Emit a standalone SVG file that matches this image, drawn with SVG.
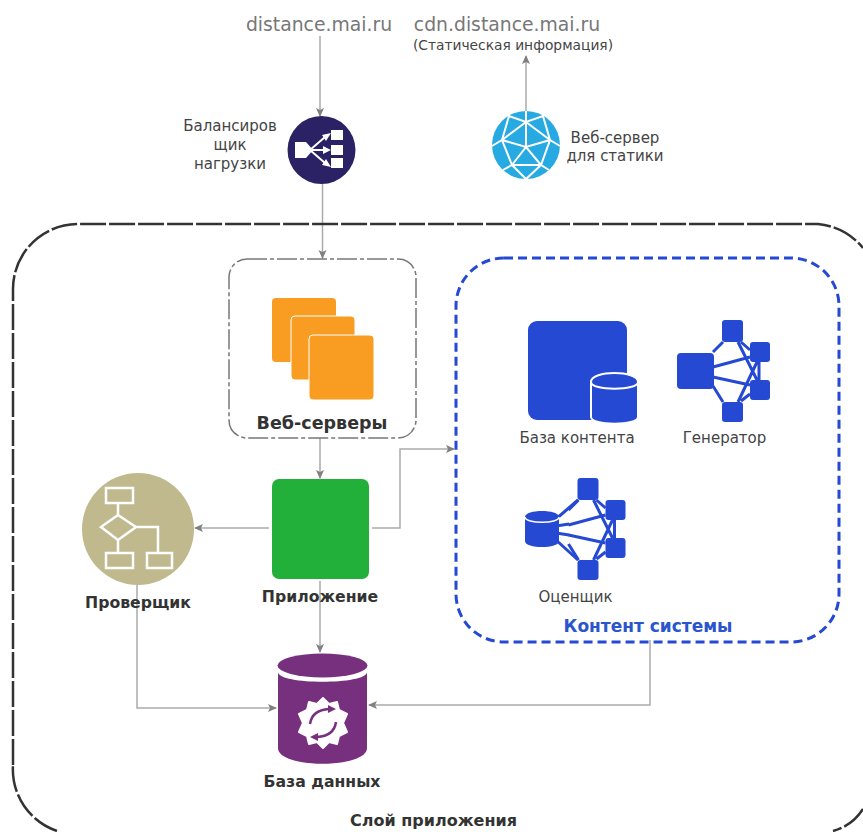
<svg xmlns="http://www.w3.org/2000/svg" width="863" height="832" viewBox="0 0 863 832">
<style>
text{font-family:"DejaVu Sans","Noto Sans CJK SC",sans-serif;text-anchor:middle}
.l{font-size:15px;fill:#444}
.b{font-size:15.700px;font-weight:bold;fill:#333}
.h{font-size:18.800px;fill:#777}
.c{fill:none;stroke:#aaa;stroke-width:1.500}
.bl{fill:#2549d2}
.ln{stroke:#2549d2;stroke-width:3;fill:none}
.wl{stroke:#fff;stroke-width:2.500;fill:none}
</style>
<defs>
<marker id="a" markerWidth="10" markerHeight="10" refX="8" refY="4" orient="auto" markerUnits="userSpaceOnUse"><path d="M0 0L9 4L0 8L2 4Z" fill="#808080"/></marker>
<g id="mesh">
<path class="ln" d="M-19 -18L-9 -28M9 -28L18 -20M6 -28L25 10M-19 -3L18 -13M-19 7L18 15M-19 16L-9 32M9 31L18 24M6 32L25 -8M27 -8V10"/>
<rect class="bl" x="-10" y="-50" width="21" height="22" rx="3"/>
<rect class="bl" x="-10" y="32" width="21" height="20" rx="3"/>
<rect class="bl" x="18" y="-28" width="20" height="20" rx="3"/>
<rect class="bl" x="18" y="10" width="20" height="20" rx="3"/>
</g>
</defs>
<g id="connectors">
<path class="c" d="M320 36V116" marker-end="url(#a)"/>
<path class="c" d="M322.500 184V258" marker-end="url(#a)"/>
<path class="c" d="M526 111V56" marker-end="url(#a)"/>
<path class="c" d="M320 438V478" marker-end="url(#a)"/>
<path class="c" d="M269 528H195" marker-end="url(#a)"/>
<path class="c" d="M372 528H400V449H454" marker-end="url(#a)"/>
<path class="c" d="M320 581V652" marker-end="url(#a)"/>
<path class="c" d="M137 585V708H276" marker-end="url(#a)"/>
<path class="c" d="M650 640V705H369" marker-end="url(#a)"/>
</g>
<g id="app-layer">
<path d="M13 765V289A65 65 0 0 1 78 224H818A65 65 0 0 1 863 248M863 809A50 50 0 0 1 833 831M57 831A65 65 0 0 1 13 765" fill="none" stroke="#333" stroke-width="2.500" stroke-dasharray="26 3"/>
<text class="b" x="433.500" y="826" style="font-size:16px">Слой приложения</text>
</g>
<g id="web-servers">
<rect x="229" y="259" width="187" height="179" rx="18" fill="#fff" stroke="#777" stroke-width="1.500" stroke-dasharray="20 3 4 3"/>
<rect x="272" y="298" width="64" height="64" rx="4" fill="#f99c22"/>
<rect x="291" y="316" width="64" height="64" rx="4" fill="#f99c22" stroke="#fff"/>
<rect x="309" y="335" width="65" height="65" rx="4" fill="#f99c22" stroke="#fff"/>
<text class="b" x="322" y="429" style="font-size:17.500px">Веб-серверы</text>
</g>
<g id="content-system">
<rect x="456" y="258" width="383" height="384" rx="48" fill="none" stroke="#2549d2" stroke-width="3" stroke-dasharray="9 5"/>
<text x="648" y="632" style="font-size:17px;font-weight:bold;fill:#2a55cc">Контент системы</text>
</g>
<g id="balancer">
<circle cx="321.500" cy="150" r="34" fill="#2b2265"/>
<path d="M295 142H306L313 150L306 158H295Z" fill="#fff"/>
<g fill="#fff"><rect x="331" y="130" width="12" height="10"/><rect x="331" y="145" width="12" height="10"/><rect x="331" y="158" width="12" height="10"/></g>
<path d="M310 150L325 137M310 150H325M310 150L325 163" stroke="#fff" stroke-width="2" fill="none"/>
<path d="M331 133L322 135L326 141ZM331 150L323 146V154ZM331 167L322 165L326 159Z" fill="#fff"/>
<text class="l" x="230" y="131">Балансиров</text><text class="l" x="230" y="150">щик</text><text class="l" x="230" y="168.500">нагрузки</text>
</g>
<g id="static-server">
<circle cx="526" cy="145" r="34" fill="#27aae1"/>
<path class="wl" style="stroke-width:2" d="M526 122L502 140L512 165H541L550 140ZM526 122V147M502 140L526 147L550 140M512 165L526 147L541 165M526 111V122M502 140L492 146M550 140L560 146M512 165L526 179L541 165M512 165L503 170M541 165L549 170M502 140L509 116L526 122L543 116L550 140"/>
<text class="l" x="615" y="143">Веб-сервер</text><text class="l" x="615" y="161">для статики</text>
</g>
<g id="content-db">
<rect class="bl" x="528" y="321" width="99" height="99" rx="9"/>
<path class="bl" stroke="#fff" stroke-width="2" d="M591 382C591 370 638 370 638 382V417C638 426 591 426 591 417Z"/>
<path d="M591 382C591 391 638 391 638 382" stroke="#fff" stroke-width="2" fill="none"/>
<text class="l" x="577" y="443">База контента</text>
</g>
<g id="generator">
<use href="#mesh" x="732" y="370"/>
<rect class="bl" x="677" y="353" width="37" height="36" rx="4"/>
<text class="l" x="724.500" y="443">Генератор</text>
</g>
<g id="evaluator">
<path class="ln" d="M556 519L578 500M556 526L569 524M556 533L569 535M556 540L578 560"/>
<use href="#mesh" x="587.500" y="528"/>
<path class="bl" d="M525 517C525 509 559 509 559 517V541C559 549 525 549 525 541Z"/>
<path d="M525 517C525 524 559 524 559 517" stroke="#fff" stroke-width="1.500" fill="none"/>
<text class="l" x="575.500" y="602">Оценщик</text>
</g>
<g id="app">
<rect x="272" y="479" width="97" height="100" rx="7" fill="#22b03a"/>
<text class="b" x="320" y="602">Приложение</text>
</g>
<g id="checker">
<circle cx="138" cy="529" r="56" fill="#bfb98d"/>
<g class="wl"><rect x="106" y="488" width="27" height="15"/><rect x="106" y="553" width="27" height="15"/><rect x="147" y="553" width="25" height="15"/><path d="M118 515L136 527L118 540L101 527ZM118 503V515M118 540V553M136 527H158V553"/></g>
<text class="b" x="138" y="608">Проверщик</text>
</g>
<g id="database">
<path d="M278 672C278 685 367 685 367 672V748C367 769 278 769 278 748Z" fill="#76307e"/>
<ellipse cx="322.500" cy="665.500" rx="45" ry="12" fill="#76307e"/>
<path d="M323 698L329 704L337 702L339 710L347 714L343 723L347 732L339 736L337 744L329 742L323 748L317 742L309 744L307 736L299 732L303 723L299 714L307 710L309 702L317 704Z" fill="#fff" stroke="#fff" stroke-linejoin="round" stroke-width="2"/>
<path d="M310 724Q312 710 329 709M336 722Q334 736 317 737" stroke="#76307e" stroke-width="2.500" fill="none"/>
<path d="M328 705L336 709L328 713ZM318 733L310 737L318 741Z" fill="#76307e"/>
<text class="b" x="322" y="787">База данных</text>
</g>
<g id="domains">
<text class="h" x="319" y="31">distance.mai.ru</text>
<text class="h" x="507" y="31">cdn.distance.mai.ru</text>
<text x="513" y="50" style="font-size:13.800px;fill:#444">(Статическая информация)</text>
</g>
</svg>
